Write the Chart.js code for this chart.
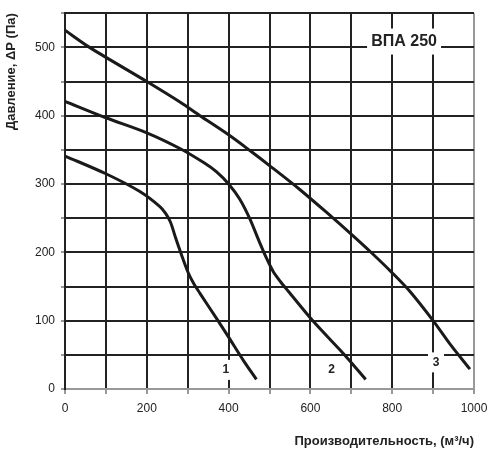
<!DOCTYPE html>
<html>
<head>
<meta charset="utf-8">
<script src="https://cdn.jsdelivr.net/npm/chart.js@4"></script>
<style>
  html, body { margin: 0; padding: 0; background: #fff; }
</style>
</head>
<body>
<canvas id="fan" width="497" height="454"></canvas>
<script>
// curve 1 (lowest speed)
const flow1 = [0, 100, 183, 232, 246, 258, 270, 285, 300, 314, 330, 374, 400, 436, 468];
const pressure1 = [341, 315, 289, 267, 257, 244, 222, 196, 172, 155, 140, 100, 76, 42, 14];
// curve 2
const flow2 = [0, 100, 200, 281, 340, 370, 400, 427, 452, 472, 493, 509, 527, 546, 607, 688, 735];
const pressure2 = [421, 397, 375, 352, 331, 318, 300, 278, 249, 220, 191, 172, 157, 143, 99, 47, 14];
// curve 3 (highest speed)
const flow3 = [0, 60, 200, 281, 330, 400, 452, 500, 574, 648, 699, 750, 800, 843, 900, 941, 990];
const pressure3 = [525, 500, 450, 420, 400, 372, 349, 327, 292, 254, 227, 199, 170, 143, 100, 66, 29];

const curveNames = ['1', '2', '3'];
const nameFlow = [393, 652, 907];
const namePressure = [28, 28, 39];

const modelName = 'ВПА 250';
const modelAt = [829, 510];

const xTitle = 'Производительность, (м³/ч)';
const yTitle = 'Давление, ΔР (Па)';

const FONT = "'Liberation Sans', Arial, sans-serif";
const GRID = '#222';
const EDGE = '#999';

function pts(xs, ys) {
  return xs.map((x, i) => ({x: x, y: ys[i]}));
}

function lineSet(xs, ys) {
  return {
    data: pts(xs, ys),
    borderColor: '#1a1a1a',
    borderWidth: 3,
    pointRadius: 0,
    fill: false,
    tension: 0.3
  };
}

// white boxed labels on top of the grid
const labelsPlugin = {
  id: 'curveLabels',
  beforeDatasetsDraw(chart) {
    const {ctx, scales: {x, y}} = chart;
    ctx.save();
    ctx.fillStyle = '#fff';
    const mx = x.getPixelForValue(modelAt[0]);
    const my = y.getPixelForValue(modelAt[1]);
    ctx.fillRect(mx - 37, my - 12, 74, 26);
    curveNames.forEach((n, i) => {
      const px = x.getPixelForValue(nameFlow[i]);
      const py = y.getPixelForValue(namePressure[i]);
      ctx.fillRect(px - 8, py - 10, 16, 20);
    });
    ctx.restore();
  },
  afterDatasetsDraw(chart) {
    const {ctx, scales: {x, y}} = chart;
    ctx.save();
    ctx.fillStyle = '#222';
    ctx.textAlign = 'center';
    ctx.textBaseline = 'middle';
    ctx.font = 'bold 16px ' + FONT;
    ctx.fillText(modelName, x.getPixelForValue(modelAt[0]), y.getPixelForValue(modelAt[1]) + 1);
    ctx.font = 'bold 12px ' + FONT;
    curveNames.forEach((n, i) => {
      ctx.fillText(n, x.getPixelForValue(nameFlow[i]), y.getPixelForValue(namePressure[i]));
    });
    ctx.restore();
  }
};

new Chart(document.getElementById('fan'), {
  type: 'line',
  data: {
    datasets: [lineSet(flow1, pressure1), lineSet(flow2, pressure2), lineSet(flow3, pressure3)]
  },
  options: {
    responsive: false,
    animation: false,
    layout: {padding: {top: 9, right: 23, left: 0, bottom: 0}},
    plugins: {legend: {display: false}, tooltip: {enabled: false}},
    scales: {
      x: {
        type: 'linear',
        min: 0,
        max: 1000,
        afterFit(s) { s.height = 65; },
        ticks: {
          stepSize: 100,
          padding: 7,
          color: '#222',
          font: {family: FONT, size: 12},
          maxRotation: 0,
          callback: v => (v % 200 === 0 ? v : '')
        },
        grid: {
          color: c => (c.tick && c.tick.value === 1000 ? EDGE : GRID),
          lineWidth: 2,
          tickLength: 5,
          tickColor: EDGE
        },
        border: {display: true, color: EDGE, width: 2},
        title: {
          display: true,
          text: xTitle,
          align: 'end',
          color: '#222',
          font: {family: FONT, size: 13, weight: 'bold'},
          padding: {top: 0, bottom: 5}
        }
      },
      y: {
        min: 0,
        max: 550,
        afterFit(s) { s.width = 65; },
        ticks: {
          stepSize: 50,
          padding: 6,
          color: '#222',
          font: {family: FONT, size: 12},
          callback: v => (v % 100 === 0 ? v : '')
        },
        grid: {
          color: c => (c.tick && c.tick.value === 0 ? EDGE : GRID),
          lineWidth: 2,
          tickLength: 4,
          tickColor: EDGE
        },
        border: {display: true, color: GRID, width: 2},
        title: {
          display: true,
          text: yTitle,
          align: 'end',
          color: '#222',
          font: {family: FONT, size: 13, weight: 'bold'},
          padding: {top: 4, bottom: 0}
        }
      }
    }
  },
  plugins: [labelsPlugin]
});
</script>
</body>
</html>
